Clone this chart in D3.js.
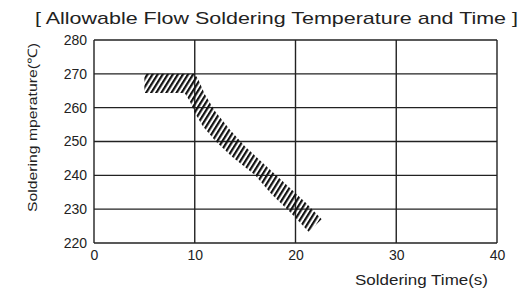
<!DOCTYPE html>
<html lang="en">
<head>
<title>Flow soldering</title>
<script src="https://d3js.org/d3.v7.min.js"></script>
<style>
body { margin: 0; background: #fff; }
text { font-family: "Liberation Sans", Arial, sans-serif; fill: #222; }
</style>
</head>
<body>
<div id="chart"></div>
<script>
var w = 529;
var h = 289;

// axis ticks
var xTicks = [0, 10, 20, 30, 40];
var yTicks = [220, 230, 240, 250, 260, 270, 280];

// allowable region, upper edge then lower edge (time s, temp C)
var upperEdge = [[5, 270], [10, 270], [10.4, 268], [11, 264], [12, 259], [13.5, 253.5], [15, 248.5], [17, 243], [19, 237.5], [21, 232], [22.6, 227]];
var lowerEdge = [[21.3, 223.3], [19.5, 229], [17.6, 234.5], [16, 240], [13.7, 245.5], [12.1, 250], [10.8, 254.5], [10, 258.5], [9.5, 262], [9, 264.3], [5, 264.3]];

var title = "[ Allowable Flow Soldering Temperature and Time ]";
var xTitle = "Soldering Time(s)";
var yTitle = "Soldering mperature(\u2103)";

var svg = d3.select("#chart").append("svg")
  .attr("width", w)
  .attr("height", h);

var x = d3.scaleLinear().domain([0, 40]).range([94, 497]);
var y = d3.scaleLinear().domain([220, 280]).range([243, 40]);

// hatch pattern
svg.append("defs").append("pattern")
  .attr("id", "hatch")
  .attr("patternUnits", "userSpaceOnUse")
  .attr("width", 4.3).attr("height", 4.3)
  .attr("patternTransform", "rotate(32)")
  .append("rect")
  .attr("width", 2.2).attr("height", 4.3)
  .attr("fill", "#111");

// grid
svg.append("g").selectAll("line").data(yTicks).enter().append("line")
  .attr("x1", x(0)).attr("x2", x(40))
  .attr("y1", function(d){ return y(d); })
  .attr("y2", function(d){ return y(d); })
  .attr("stroke", "#222").attr("stroke-width", 1.4);
svg.append("g").selectAll("line").data(xTicks).enter().append("line")
  .attr("y1", y(220)).attr("y2", y(280))
  .attr("x1", function(d){ return x(d); })
  .attr("x2", function(d){ return x(d); })
  .attr("stroke", "#222").attr("stroke-width", 1.4);

// region
var poly = upperEdge.concat(lowerEdge);
svg.append("path")
  .attr("d", d3.line().x(function(d){ return x(d[0]); }).y(function(d){ return y(d[1]); })(poly) + "Z")
  .attr("fill", "url(#hatch)");

// axes (labels only)
svg.append("g")
  .attr("transform", "translate(" + x(0) + ",0)")
  .call(d3.axisLeft(y).tickValues(yTicks).tickSize(0).tickPadding(7));
svg.append("g")
  .attr("transform", "translate(0," + y(220) + ")")
  .call(d3.axisBottom(x).tickValues(xTicks).tickSize(0).tickPadding(7));
svg.selectAll(".domain").remove();
svg.selectAll(".tick text")
  .attr("font-size", 14)
  .attr("font-family", "'Liberation Sans', Arial, sans-serif")
  .attr("fill", "#222");

// titles
svg.append("text")
  .attr("x", 35).attr("y", 24)
  .attr("font-size", 17)
  .attr("textLength", 483).attr("lengthAdjust", "spacingAndGlyphs")
  .text(title);
svg.append("text")
  .attr("x", 355).attr("y", 285)
  .attr("font-size", 14)
  .attr("textLength", 133).attr("lengthAdjust", "spacingAndGlyphs")
  .text(xTitle);
svg.append("text")
  .attr("transform", "translate(37,212) rotate(-90)")
  .attr("font-size", 13)
  .attr("textLength", 169).attr("lengthAdjust", "spacingAndGlyphs")
  .text(yTitle);
</script>
</body>
</html>
